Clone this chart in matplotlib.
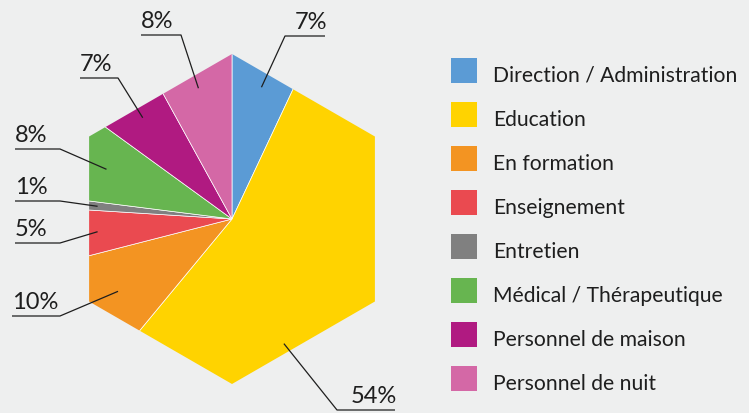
import numpy as np
import matplotlib
matplotlib.use("Agg")
import matplotlib.pyplot as plt
from matplotlib.patches import RegularPolygon, Rectangle

categories = ["Direction / Administration", "Education", "En formation", "Enseignement",
              "Entretien", "Médical / Thérapeutique", "Personnel de maison", "Personnel de nuit"]
shares = [7, 54, 10, 5, 1, 8, 7, 8]
labels = [f"{v}%" for v in shares]
colors = ["#5B9BD5", "#FFD300", "#F39422", "#EA4A50", "#808080", "#67B550", "#B01A81", "#D468A6"]

# leader layout in pixels (y down): elbow x, elbow y, end of horizontal line, anchor position in wedge
leaders = [(285, 37, 325, 0.5), (337, 411, 395, 0.68), (60, 317, 12, 0.5), (60, 244, 15, 0.5),
           (60, 202, 15, 0.5), (60, 150, 15, 0.5), (118, 79, 80, 0.5), (181, 36, 141, 0.5)]

W, H = 749, 414
CX, CY, R = 232, 220, 165
FONT = "Lato"

fig = plt.figure(figsize=(W / 100, H / 100), dpi=100, facecolor="#EEEFEF")
ax = fig.add_axes([0, 0, 1, 1])
ax.set_facecolor("#EEEFEF")

wedges, _ = ax.pie(shares, colors=colors, startangle=-90, counterclock=True,
                   center=(CX, CY), radius=R * 1.1,
                   wedgeprops=dict(edgecolor="white", linewidth=0.5))
ax.set_xlim(0, W)
ax.set_ylim(H, 0)
ax.set_aspect("auto")
ax.axis("off")

hexagon = RegularPolygon((CX, CY), numVertices=6, radius=R, orientation=0,
                         facecolor="none", edgecolor="none")
ax.add_patch(hexagon)
for w in wedges:
    w.set_clip_on(True)
    w.set_clip_path(hexagon)

for w, lab, (ex, ey, endx, frac) in zip(wedges, labels, leaders):
    th = np.deg2rad(w.theta1 + frac * (w.theta2 - w.theta1))
    axp, ayp = CX + 135 * np.cos(th), CY + 135 * np.sin(th)
    ax.plot([axp, ex, endx], [ayp, ey, ey], color="#1E1E1E", lw=0.9, solid_capstyle="butt")
    if endx > ex:
        ax.text(endx + 2, ey - 8, lab, ha="right", va="baseline", fontsize=17,
                family=FONT, color="#1E1E1E")
    else:
        ax.text(endx, ey - 8, lab, ha="left", va="baseline", fontsize=17,
                family=FONT, color="#1E1E1E")

# legend
for i, (cat, col) in enumerate(zip(categories, colors)):
    yc = 71 + 44 * i
    ax.add_patch(Rectangle((451, yc - 12.5), 26, 25, facecolor=col, edgecolor="none"))
    ax.text(493, yc + 11, cat, ha="left", va="baseline", fontsize=15.2,
            family=FONT, color="#1E1E1E")

fig.savefig("out.png", dpi=100, facecolor=fig.get_facecolor())
